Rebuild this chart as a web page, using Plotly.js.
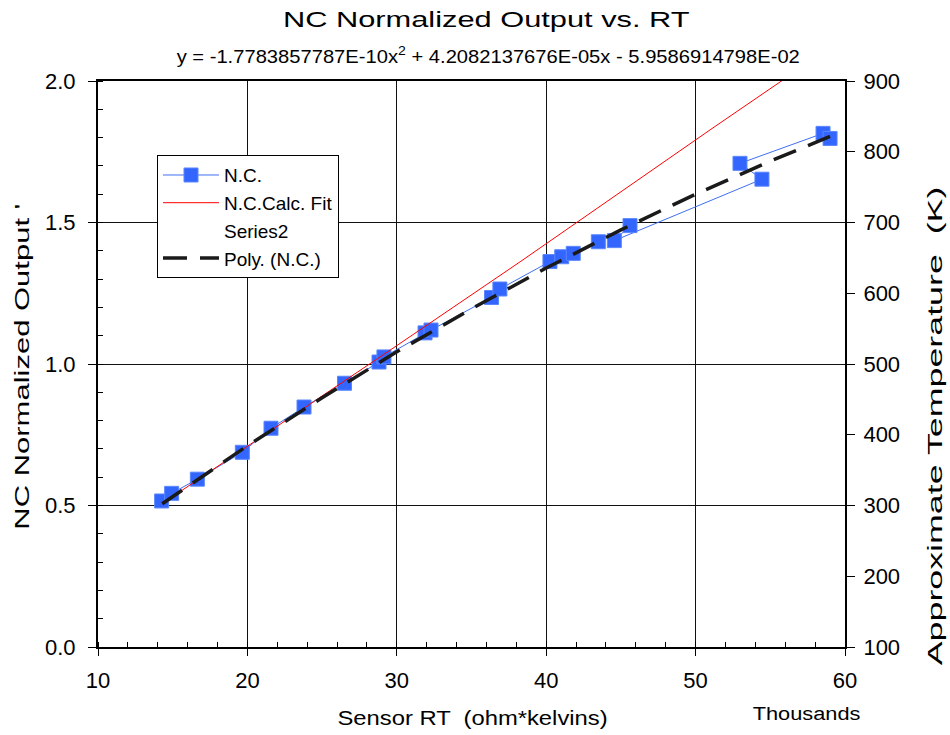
<!DOCTYPE html>
<html>
<head>
<meta charset="utf-8">
<script src="https://cdn.plot.ly/plotly-3.0.1.min.js"></script>
<style>
html,body{margin:0;padding:0;background:#fff;}
#chart{width:950px;height:735px;}
.legend .traces{opacity:1 !important;}
</style>
</head>
<body>
<div id="chart"></div>
<script>
// N.C. measured points (Sensor RT in thousands of ohm*kelvins, normalized output)
const ncRT = [14.26, 14.93, 16.65, 19.66, 21.58, 23.79, 26.5, 28.81, 29.14, 31.89, 32.29, 36.34, 36.9, 40.25, 41.04, 41.81, 43.49, 45.61, 44.56, 54.44, 52.97, 58.53, 59.0];
const ncOut = [0.516, 0.543, 0.593, 0.688, 0.773, 0.848, 0.932, 1.007, 1.025, 1.110, 1.120, 1.235, 1.265, 1.362, 1.379, 1.391, 1.432, 1.489, 1.436, 1.653, 1.709, 1.815, 1.797];

// N.C.Calc. Fit (red line)
const fitRT = [14.26, 25.53, 30.0, 38.25, 43.6, 50.96, 56.3];
const fitOut = [0.505, 0.905, 1.065, 1.361, 1.558, 1.827, 2.02];

// Poly. (N.C.) trendline
const polyRT = [14.3, 20, 25, 30, 35, 40, 45, 50, 55, 59];
const polyOut = [0.506, 0.711, 0.881, 1.043, 1.195, 1.339, 1.474, 1.600, 1.717, 1.804];

// Series2 (approximate temperature axis, no visible marks)
const s2RT = [null];
const s2Temp = [null];

// Texts
const titleText = 'NC Normalized Output vs. RT';
const eqText = 'y = -1.7783857787E-10x<sup>2</sup> + 4.2082137676E-05x - 5.9586914798E-02';
const xTitle = 'Sensor RT &nbsp;(ohm*kelvins)';
const yTitle = "NC Normalized Output '";
const y2Title = 'Approximate Temperature &nbsp;(K)';
const xUnit = 'Thousands';

const FONT = 'Liberation Sans, Arial, sans-serif';

const traces = [
  {x: ncRT, y: ncOut, name: 'N.C.', type: 'scatter', mode: 'lines+markers',
   line: {color: '#3f6ff2', width: 1},
   marker: {symbol: 'square', size: 14, color: '#3366ff', line: {color: '#5a86ff', width: 1}}},
  {x: fitRT, y: fitOut, name: 'N.C.Calc. Fit', type: 'scatter', mode: 'lines',
   line: {color: '#ff0000', width: 1}},
  {x: s2RT, y: s2Temp, name: 'Series2', type: 'scatter', mode: 'lines', yaxis: 'y2',
   visible: 'legendonly', line: {color: 'rgba(0,0,0,0)', width: 0}, showlegend: true},
  {x: polyRT, y: polyOut, name: 'Poly. (N.C.)', type: 'scatter', mode: 'lines',
   line: {color: '#1a1a1a', width: 3.5, dash: '24px,13px'}}
];

function ann(text, x, y, size, angle, stretch) {
  return {text: text, xref: 'paper', yref: 'paper', x: x, y: y, xanchor: 'center', yanchor: 'middle',
          showarrow: false, textangle: angle, font: {family: FONT, size: size, color: '#000'},
          _stretch: stretch};
}

const anns = [
  ann(titleText, 0.5207, 1.1078, 22, 0, 1.40),
  ann(eqText, 0.522, 1.0459, 18, 0, 1.12),
  ann(xTitle, 0.5007, -0.1254, 20, 0, 1.19),
  ann(yTitle, -0.1017, 0.495, 20, -90, 1.55),
  ann(y2Title, 1.1205, 0.391, 20, -90, 1.79),
  ann(xUnit, 0.948, -0.1184, 18, 0, 1.21)
];
const stretches = anns.map(a => a._stretch);
anns.forEach(a => delete a._stretch);

const layout = {
  width: 950, height: 735,
  margin: {l: 98, r: 105, t: 81, b: 88},
  paper_bgcolor: '#fff', plot_bgcolor: '#fff',
  font: {family: FONT, color: '#000'},
  showlegend: true,
  legend: {x: 0.079, y: 0.869, xanchor: 'left', yanchor: 'top',
           bgcolor: '#fff', bordercolor: '#000', borderwidth: 1,
           font: {family: FONT, size: 19, color: '#000'}, tracegroupgap: 0, itemwidth: 56},
  xaxis: {range: [10, 60], dtick: 10, tick0: 10, showgrid: true, gridcolor: '#111', gridwidth: 1,
          zeroline: false, showline: true, linecolor: '#000', linewidth: 2, mirror: true,
          ticks: 'outside', ticklen: 7, tickcolor: '#000', tickwidth: 1, ticklabelstandoff: 6,
          minor: {ticks: 'inside', dtick: 2, ticklen: 5, tickcolor: '#000', showgrid: false},
          tickfont: {family: FONT, size: 22, color: '#000'}},
  yaxis: {range: [0, 2], dtick: 0.5, tick0: 0, tickformat: '.1f', showgrid: true, gridcolor: '#111', gridwidth: 1,
          zeroline: false, showline: true, linecolor: '#000', linewidth: 2,
          ticks: 'outside', ticklen: 8, tickcolor: '#000', tickwidth: 1, ticklabelstandoff: 8,
          minor: {ticks: 'inside', dtick: 0.1, ticklen: 5, tickcolor: '#000', showgrid: false},
          tickfont: {family: FONT, size: 22, color: '#000'}},
  yaxis2: {overlaying: 'y', side: 'right', anchor: 'x', range: [100, 900], dtick: 100, tick0: 100,
           showgrid: false, zeroline: false, showline: true, linecolor: '#000', linewidth: 2,
           ticks: 'outside', ticklen: 8, tickcolor: '#000', tickwidth: 1, ticklabelstandoff: 4,
           tickfont: {family: FONT, size: 22, color: '#000'}},
  yaxis3: {overlaying: 'y', side: 'right', anchor: 'x', range: [100, 900], dtick: 100, tick0: 100,
           showgrid: false, zeroline: false, showline: false, showticklabels: false,
           ticks: 'inside', ticklen: 8, tickcolor: '#000', tickwidth: 1},
  annotations: anns
};

Plotly.newPlot('chart', traces, layout, {displayModeBar: false, staticPlot: true}).then(gd => {
  // stretch texts along their baseline like the reference rendering
  const texts = gd.querySelectorAll('.annotation .annotation-text');
  texts.forEach((t, i) => {
    const s = stretches[i] || 1;
    t.style.transformBox = 'fill-box';
    t.style.transformOrigin = 'center';
    t.style.transform = 'scaleX(' + s + ')';
  });
  // longer legend sample lines
  gd.querySelectorAll('.legend .traces').forEach(g => {
    g.querySelectorAll('.legendlines path').forEach(p => p.setAttribute('d', 'M5,0h56'));
    g.querySelectorAll('.legendpoints path').forEach(p => p.setAttribute('transform', 'translate(33,0)'));
  });
});
</script>
</body>
</html>
